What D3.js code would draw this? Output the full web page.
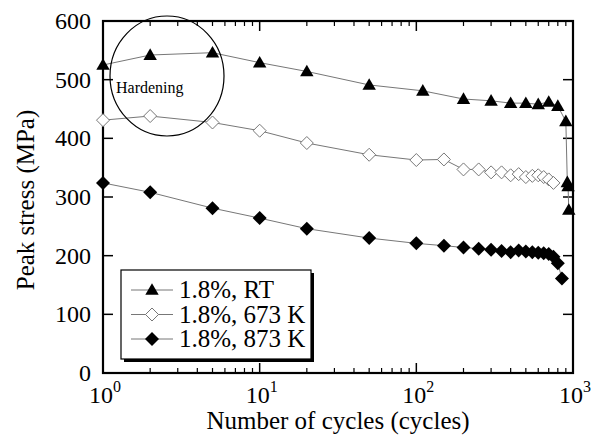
<!DOCTYPE html>
<html>
<head>
<meta charset="utf-8">
<script src="https://cdn.jsdelivr.net/npm/d3@7"></script>
<style>
  body { margin: 0; background: #fff; }
</style>
</head>
<body>
<svg width="600" height="437" font-family="Liberation Serif"></svg>
<script>
// cycles / peak stress (MPa)
const rtCycles = [1, 2, 5, 10, 20, 50, 110, 200, 300, 400, 500, 600, 700, 800, 900, 920, 930, 940];
const rtStress = [525, 542, 546, 529, 514, 491, 481, 467, 464, 460, 460, 458, 462, 455, 429, 325, 318, 278];

const k673Cycles = [1, 2, 5, 10, 20, 50, 100, 150, 200, 250, 300, 350, 400, 450, 500, 550, 600, 650, 700, 750];
const k673Stress = [431, 438, 427, 413, 392, 372, 363, 364, 347, 347, 342, 342, 337, 339, 334, 336, 337, 334, 330, 324];

const k873Cycles = [1, 2, 5, 10, 20, 50, 100, 150, 200, 250, 300, 350, 400, 450, 500, 550, 600, 650, 700, 750, 800, 850];
const k873Stress = [324, 308, 281, 264, 246, 230, 221, 217, 214, 212, 210, 208, 206, 209, 207, 206, 205, 204, 203, 198, 187, 161];

const yTicks = [0, 100, 200, 300, 400, 500, 600];
const xDecades = [0, 1, 2, 3];
const legendLabels = ["1.8%, RT", "1.8%, 673 K", "1.8%, 873 K"];

const svg = d3.select("svg");
const pLeft = 103, pRight = 573, pTop = 21, pBottom = 373;

const x = d3.scaleLog().domain([1, 1000]).range([pLeft, pRight]);
const y = d3.scaleLinear().domain([0, 600]).range([pBottom, pTop]);

// minor + major tick values for log axis
const minor = [];
for (let d = 0; d < 3; d++) for (let m = 2; m <= 9; m++) minor.push(m * Math.pow(10, d));
const major = xDecades.map(d => Math.pow(10, d));

const g = svg.append("g");

// axes: ticks inward on all four sides
[pBottom, pTop].forEach(yy => {
  const dir = yy === pBottom ? -1 : 1;
  g.selectAll(null).data(minor).enter().append("line")
    .attr("x1", d => x(d)).attr("x2", d => x(d))
    .attr("y1", yy).attr("y2", yy + dir * 5)
    .attr("stroke", "#000").attr("stroke-width", 1.2);
  g.selectAll(null).data(major).enter().append("line")
    .attr("x1", d => x(d)).attr("x2", d => x(d))
    .attr("y1", yy).attr("y2", yy + dir * 10)
    .attr("stroke", "#000").attr("stroke-width", 1.5);
});
[pLeft, pRight].forEach(xx => {
  const dir = xx === pLeft ? 1 : -1;
  g.selectAll(null).data(yTicks).enter().append("line")
    .attr("x1", xx).attr("x2", xx + dir * 10)
    .attr("y1", d => y(d)).attr("y2", d => y(d))
    .attr("stroke", "#000").attr("stroke-width", 1.5);
});

g.append("rect")
  .attr("x", pLeft).attr("y", pTop)
  .attr("width", pRight - pLeft).attr("height", pBottom - pTop)
  .attr("fill", "none").attr("stroke", "#000").attr("stroke-width", 2.2);

// tick labels
g.selectAll(null).data(yTicks).enter().append("text")
  .attr("x", pLeft - 12).attr("y", d => y(d) + 8)
  .attr("text-anchor", "end").attr("font-size", 24)
  .text(d => d);

xDecades.forEach(d => {
  const t = g.append("text")
    .attr("x", x(Math.pow(10, d)) + 2).attr("y", pBottom + 30)
    .attr("text-anchor", "middle").attr("font-size", 24);
  t.append("tspan").text("10");
  t.append("tspan").attr("dy", -11).attr("font-size", 16).text(d);
});

// axis titles
svg.append("text")
  .attr("x", 338).attr("y", 429)
  .attr("text-anchor", "middle").attr("font-size", 25)
  .text("Number of cycles (cycles)");
svg.append("text")
  .attr("transform", "translate(34,200) rotate(-90)")
  .attr("text-anchor", "middle").attr("font-size", 25)
  .text("Peak stress (MPa)");

// markers
const triangle = d3.symbol().type(d3.symbolTriangle).size(78);
const diamond = (cx, cy, s) => `M${cx},${cy - s}L${cx + s},${cy}L${cx},${cy + s}L${cx - s},${cy}Z`;

const line = d3.line().x(d => x(d[0])).y(d => y(d[1]));

const series = [
  { cycles: rtCycles, stress: rtStress, kind: "tri" },
  { cycles: k673Cycles, stress: k673Stress, kind: "open" },
  { cycles: k873Cycles, stress: k873Stress, kind: "fill" }
];

function drawMarker(sel, kind, cx, cy) {
  if (kind === "tri") {
    sel.append("path").attr("d", triangle())
      .attr("transform", `translate(${cx},${cy + 1})`)
      .attr("fill", "#000");
  } else if (kind === "open") {
    sel.append("path").attr("d", diamond(cx, cy, 6.5))
      .attr("fill", "#fff").attr("stroke", "#777").attr("stroke-width", 1);
  } else {
    sel.append("path").attr("d", diamond(cx, cy, 7))
      .attr("fill", "#000");
  }
}

series.forEach(s => {
  const pts = s.cycles.map((c, i) => [c, s.stress[i]]);
  g.append("path").datum(pts).attr("d", line)
    .attr("fill", "none").attr("stroke", "#777").attr("stroke-width", 1);
  pts.forEach(p => drawMarker(g, s.kind, x(p[0]), y(p[1])));
});

// hardening circle
svg.append("ellipse")
  .attr("cx", 167).attr("cy", 76).attr("rx", 57).attr("ry", 60)
  .attr("fill", "none").attr("stroke", "#000").attr("stroke-width", 1.2);
svg.append("text")
  .attr("x", 116).attr("y", 93).attr("font-size", 16)
  .text("Hardening");

// legend
const lx = 121, ly = 270, lw = 190, lh = 89;
svg.append("rect").attr("x", lx + 3).attr("y", ly + 3).attr("width", lw).attr("height", lh)
  .attr("fill", "#000");
svg.append("rect").attr("x", lx).attr("y", ly).attr("width", lw).attr("height", lh)
  .attr("fill", "#fff").attr("stroke", "#000").attr("stroke-width", 1.2);

legendLabels.forEach((lab, i) => {
  const yy = ly + 20 + i * 24.5;
  svg.append("line").attr("x1", lx + 10).attr("x2", lx + 52)
    .attr("y1", yy).attr("y2", yy).attr("stroke", "#777").attr("stroke-width", 1);
  drawMarker(svg, series[i].kind, lx + 31, yy);
  svg.append("text").attr("x", lx + 58).attr("y", yy + 8)
    .attr("font-size", 25).text(lab);
});
</script>
</body>
</html>
